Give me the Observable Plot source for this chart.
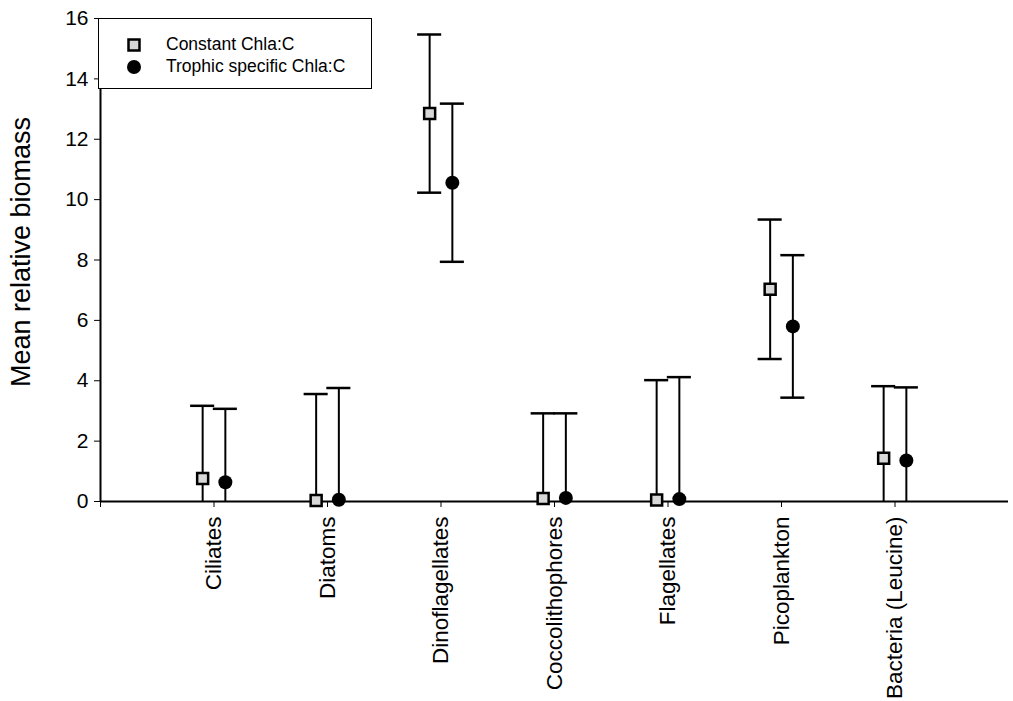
<!DOCTYPE html>
<html>
<head>
<meta charset="utf-8">
<script src="https://cdn.jsdelivr.net/npm/d3@7"></script>
<script src="https://cdn.jsdelivr.net/npm/@observablehq/plot@0.6"></script>
<style>
  html, body { margin: 0; padding: 0; background: white; }
  #wrap { position: relative; width: 1013px; height: 701px; font-family: "Liberation Sans", Arial, sans-serif; }
  #legend { position: absolute; left: 98px; top: 18px; width: 272px; height: 69px; border: 1.5px solid black; background: white; }
  .item { position: absolute; left: 26px; display: flex; align-items: center; font-size: 17.5px; color: #000; }
  .item svg { margin-right: 23px; }
</style>
</head>
<body>
<div id="wrap">
  <div id="chart"></div>
  <div id="legend">
    <div class="item" style="top:15px"><svg width="18" height="18"><rect x="3.5" y="3.5" width="11" height="11" fill="#d8d8d8" stroke="black" stroke-width="2.5"/></svg>Constant Chla:C</div>
    <div class="item" style="top:37px"><svg width="18" height="18"><circle cx="9" cy="9" r="7" fill="black"/></svg>Trophic specific Chla:C</div>
  </div>
</div>
<script>
const categories = ["Ciliates", "Diatoms", "Dinoflagellates", "Coccolithophores", "Flagellates", "Picoplankton", "Bacteria (Leucine)"];
const constantMean = [0.76, 0.03, 12.85, 0.10, 0.05, 7.03, 1.43];
const constantErr  = [2.41, 3.53, 2.62, 2.82, 3.97, 2.31, 2.39];
const trophicMean  = [0.64, 0.06, 10.56, 0.12, 0.08, 5.80, 1.36];
const trophicErr   = [2.43, 3.70, 2.62, 2.80, 4.04, 2.36, 2.42];
const yTicks = [0, 2, 4, 6, 8, 10, 12, 14, 16];

const off = 0.1, cap = 0.106;
const rows = categories.flatMap((c, i) => [
  {cat: c, pos: i + 1 - off, series: "Constant", mean: constantMean[i], err: constantErr[i]},
  {cat: c, pos: i + 1 + off, series: "Trophic", mean: trophicMean[i], err: trophicErr[i]}
]);

const chart = Plot.plot({
  width: 1013,
  height: 701,
  marginLeft: 100,
  marginRight: 5,
  marginTop: 18,
  marginBottom: 200,
  style: {fontFamily: "Liberation Sans, Arial, sans-serif", fontSize: "21px", color: "black", background: "white"},
  x: {domain: [0, 8]},
  y: {domain: [0, 16]},
  marks: [
    Plot.ruleX(rows, {x: "pos", y1: d => d.mean - d.err, y2: d => d.mean + d.err, stroke: "black", strokeWidth: 2, clip: true}),
    Plot.ruleY(rows, {y: d => d.mean + d.err, x1: d => d.pos - cap, x2: d => d.pos + cap, stroke: "black", strokeWidth: 2.5}),
    Plot.ruleY(rows.filter(d => d.mean - d.err >= 0), {y: d => d.mean - d.err, x1: d => d.pos - cap, x2: d => d.pos + cap, stroke: "black", strokeWidth: 2.5}),
    Plot.ruleY([0], {stroke: "black", strokeWidth: 2}),
    Plot.ruleX([0], {stroke: "black", strokeWidth: 2}),
    Plot.dot(rows.filter(d => d.series === "Constant"), {x: "pos", y: "mean", symbol: "square", r: 6.2, fill: "#d8d8d8", stroke: "black", strokeWidth: 2.5}),
    Plot.dot(rows.filter(d => d.series === "Trophic"), {x: "pos", y: "mean", symbol: "circle", r: 7, fill: "black"}),
    Plot.axisY({ticks: yTicks, tickSize: 6, tickPadding: 6, fontSize: 21, label: "Mean relative biomass", labelAnchor: "center", labelArrow: "none", labelOffset: 90}),
    Plot.axisX({ticks: [0, 1, 2, 3, 4, 5, 6, 7], tickFormat: i => categories[i - 1] ?? "", tickRotate: -90, tickSize: 6, tickPadding: 9, fontSize: 22.5, label: null})
  ]
});
// enlarge and nudge the y-axis label
chart.querySelectorAll("text").forEach(t => {
  if (t.textContent === "Mean relative biomass") {
    t.setAttribute("font-size", "27");
    const g = t.parentNode;
    const tr = g.getAttribute("transform") || "";
    g.setAttribute("transform", "translate(0,-8) " + tr);
  }
});
document.getElementById("chart").appendChild(chart);
</script>
</body>
</html>
